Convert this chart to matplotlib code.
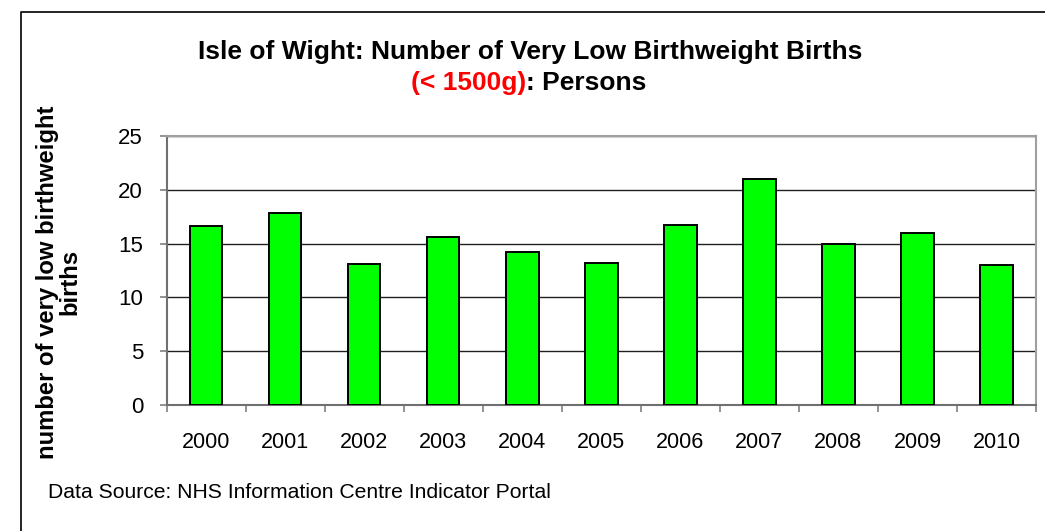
import numpy as np
import matplotlib
matplotlib.use('Agg')
import matplotlib.pyplot as plt
from matplotlib.lines import Line2D

# =============================================================================
# DATA
# =============================================================================
years = ['2000', '2001', '2002', '2003', '2004', '2005',
         '2006', '2007', '2008', '2009', '2010']
births = [16.67, 17.83, 13.07, 15.6, 14.23, 13.17, 16.73, 21.0, 15.0, 16.0, 13.0]
yticks = [0, 5, 10, 15, 20, 25]

# =============================================================================
# PLOT
# =============================================================================
plt.rcParams['font.family'] = ['Liberation Sans', 'DejaVu Sans']

W, H = 1045, 531
fig = plt.figure(figsize=(W / 100, H / 100), dpi=100)

def fx(px):
    return px / W

def fy(py):
    return 1 - py / H

# outer frame (left and top only)
fig.add_artist(Line2D([fx(20.5), fx(20.5), fx(1045)], [0, fy(12.3), fy(12.3)],
                      transform=fig.transFigure, color='black', lw=1.2))

ax = fig.add_axes([fx(166.7), fy(405.3), fx(1036) - fx(166.7), fy(135.7) - fy(405.3)])

x = np.arange(len(years))
ax.bar(x, births, width=0.41, color='#00ff00', edgecolor='black', lw=1.4, zorder=3)

ax.set_xlim(-0.5, len(years) - 0.5)
ax.set_ylim(0, 25)
ax.set_yticks(yticks)
ax.set_yticklabels([str(t) for t in yticks], fontsize=16)
ax.yaxis.grid(True, color='#202020', lw=1.0, zorder=0)

# category boundaries as ticks, labels at centres
ax.set_xticks(np.arange(len(years) + 1) - 0.5)
ax.set_xticklabels([])
ax.set_xticks(x, minor=True)
ax.set_xticklabels(years, minor=True, fontsize=15.5)
ax.tick_params(axis='x', which='major', length=5, color='#808080', width=1.2)
ax.tick_params(axis='x', which='minor', length=0, pad=19)
ax.tick_params(axis='y', length=5, color='#808080', width=1.2, pad=12)

for s in ['left', 'bottom']:
    ax.spines[s].set_color('#707070')
    ax.spines[s].set_linewidth(1.5)
for s in ['top', 'right']:
    ax.spines[s].set_color('#a0a0a0')
    ax.spines[s].set_linewidth(1.5)

# y label
fig.text(fx(59), fy(282), 'number of very low birthweight\nbirths', rotation=90,
         ha='center', va='center', multialignment='center', fontsize=17.2,
         fontweight='bold', linespacing=0.95)

# title
fig.text(fx(530), fy(52), 'Isle of Wight: Number of Very Low Birthweight Births',
         ha='center', va='center', fontsize=19, fontweight='bold')

renderer = fig.canvas.get_renderer()
t1 = fig.text(0, fy(83), '(< 1500g)', color='red', fontsize=19, fontweight='bold', va='center')
t2 = fig.text(0, fy(83), ': Persons', color='black', fontsize=19, fontweight='bold', va='center')
w1 = t1.get_window_extent(renderer).width
w2 = t2.get_window_extent(renderer).width
x0 = 529 - (w1 + w2) / 2
t1.set_x(fx(x0))
t2.set_x(fx(x0 + w1))

# source
fig.text(fx(48), fy(492), 'Data Source: NHS Information Centre Indicator Portal',
         ha='left', va='center', fontsize=15.2)

plt.savefig('out.png', dpi=100)
plt.close()
